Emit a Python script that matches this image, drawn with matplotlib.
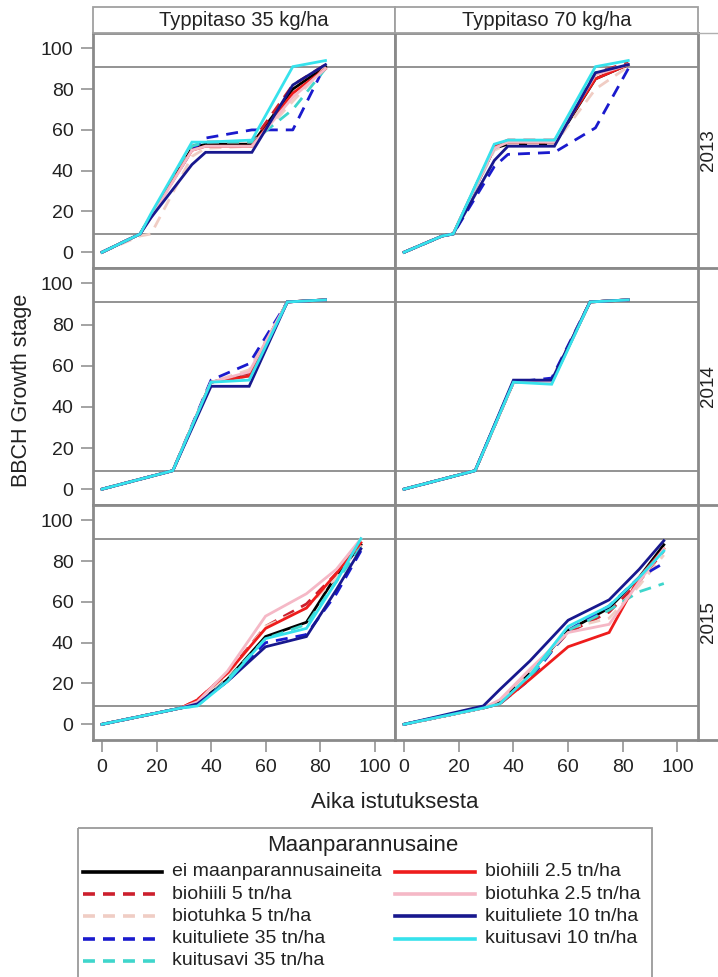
import matplotlib
matplotlib.use("Agg")
import matplotlib.pyplot as plt
from matplotlib.lines import Line2D
from matplotlib.patches import Rectangle

plt.rcParams['font.family'] = ['Liberation Sans', 'DejaVu Sans']

# ---------------- data ----------------
treatments = ["ei maanparannusaineita", "biohiili 5 tn/ha", "biotuhka 5 tn/ha",
              "kuituliete 35 tn/ha", "kuitusavi 35 tn/ha", "biohiili 2.5 tn/ha",
              "biotuhka 2.5 tn/ha", "kuituliete 10 tn/ha", "kuitusavi 10 tn/ha"]
levels = ["Typpitaso 35 kg/ha", "Typpitaso 70 kg/ha"]
years = ["2013", "2014", "2015"]
x_ticks = [0, 20, 40, 60, 80, 100]
y_ticks = [0, 20, 40, 60, 80, 100]
ref_lines = [9, 91]

days_2013 = [0, 14, 18, 33, 38, 55, 70, 82]
days_2014 = [0, 26, 40, 54, 68, 82]
days_2015 = [0, 29, 35, 46, 60, 75, 86, 95]

# rows follow the order of `treatments`
bbch_2013_35 = [
    [0, 9, 18, 51, 53, 53, 80, 91],
    [0, 9, 18, 52, 54, 54, 82, 92],
    [0, 8, 9, 47, 51, 52, 74, 91],
    [0, 9, 18, 50, 56, 60, 60, 92],
    [0, 9, 18, 52, 54, 54, 70, 90],
    [0, 9, 18, 50, 52, 52, 78, 90],
    [0, 9, 17, 50, 52, 52, 76, 90],
    [0, 9, 17, 43, 49, 49, 82, 92],
    [0, 9, 19, 54, 54, 55, 91, 94],
]
bbch_2013_70 = [
    [0, 8, 9, 51, 53, 53, 85, 92],
    [0, 8, 9, 52, 55, 55, 88, 93],
    [0, 8, 9, 50, 53, 53, 80, 91],
    [0, 8, 9, 42, 48, 49, 61, 90],
    [0, 8, 9, 51, 54, 54, 88, 92],
    [0, 8, 9, 52, 54, 54, 85, 92],
    [0, 8, 9, 51, 54, 54, 87, 92],
    [0, 8, 9, 45, 52, 52, 88, 92],
    [0, 8, 9, 53, 55, 55, 91, 94],
]
bbch_2014_35 = [
    [0, 9, 52, 56, 91, 92],
    [0, 9, 52, 56, 91, 92],
    [0, 9, 52, 58, 91, 92],
    [0, 9, 53, 61, 91, 92],
    [0, 9, 52, 55, 91, 92],
    [0, 9, 52, 55, 91, 92],
    [0, 9, 52, 57, 91, 92],
    [0, 9, 50, 50, 91, 92],
    [0, 9, 52, 53, 91, 92],
]
bbch_2014_70 = [
    [0, 9, 52, 52, 91, 92],
    [0, 9, 52, 53, 91, 92],
    [0, 9, 52, 53, 91, 92],
    [0, 9, 52, 54, 91, 92],
    [0, 9, 52, 52, 91, 92],
    [0, 9, 52, 52, 91, 92],
    [0, 9, 52, 52, 91, 92],
    [0, 9, 53, 53, 91, 92],
    [0, 9, 52, 51, 91, 92],
]
bbch_2015_35 = [
    [0, 8, 10, 22, 43, 50, 73, 88],
    [0, 8, 12, 25, 48, 59, 74, 88],
    [0, 8, 11, 24, 48, 57, 72, 88],
    [0, 8, 10, 21, 40, 44, 64, 85],
    [0, 8, 9, 22, 42, 49, 70, 87],
    [0, 8, 12, 25, 47, 57, 74, 89],
    [0, 8, 11, 26, 53, 64, 76, 91],
    [0, 8, 10, 21, 38, 43, 66, 86],
    [0, 8, 9, 21, 42, 47, 70, 91],
]
bbch_2015_70 = [
    [0, 8, 11, 25, 46, 57, 72, 88],
    [0, 8, 11, 24, 45, 55, 70, 85],
    [0, 8, 11, 25, 47, 52, 68, 83],
    [0, 8, 10, 22, 46, 58, 72, 79],
    [0, 8, 10, 23, 46, 56, 65, 69],
    [0, 8, 10, 22, 38, 45, 72, 86],
    [0, 8, 12, 27, 45, 49, 70, 86],
    [0, 9, 17, 31, 51, 61, 76, 90],
    [0, 8, 10, 24, 48, 58, 72, 85],
]

panel_days = [days_2013, days_2014, days_2015]
panel_values = [[bbch_2013_35, bbch_2013_70],
                [bbch_2014_35, bbch_2014_70],
                [bbch_2015_35, bbch_2015_70]]

# ---------------- styles ----------------
colors = ["#000000", "#cc1f2d", "#f0cdc4", "#1a1acd", "#3fd6cc",
          "#ee1c1c", "#f5b8c6", "#18188e", "#36e2ec"]
dashed = [False, True, True, True, True, False, False, False, False]
DASH = (4.3, 2.9)
GRAY = "#8a8a8a"

W, H = 718, 977
fig = plt.figure(figsize=(W / 100, H / 100), dpi=100)


def px_rect(x0, y0, x1, y1):
    return [x0 / W, 1 - y1 / H, (x1 - x0) / W, (y1 - y0) / H]


col_px = [(93, 395), (395, 698)]
row_px = [(33, 268), (268, 505), (505, 740)]

for r in range(3):
    for c in range(2):
        ax = fig.add_axes(px_rect(col_px[c][0], row_px[r][0], col_px[c][1], row_px[r][1]))
        ax.set_xlim(-3.3, 107.5)
        ax.set_ylim(-7.7, 107.5)
        for v in ref_lines:
            ax.axhline(v, color=GRAY, lw=1.3, zorder=1)
        xs = panel_days[r]
        for i, ys in enumerate(panel_values[r][c]):
            ln, = ax.plot(xs, ys, color=colors[i], lw=2.0, zorder=2 + i,
                          solid_joinstyle='miter')
            if dashed[i]:
                ln.set_dashes(DASH)
        for s in ax.spines.values():
            s.set_color(GRAY)
            s.set_linewidth(2)
        ax.set_xticks(x_ticks)
        ax.set_yticks(y_ticks)
        ax.tick_params(length=8.5, width=1.1, color=GRAY, labelsize=14,
                       pad=5.5, labelcolor="#222222")
        if c != 0:
            ax.tick_params(axis='y', left=False, labelleft=False)
        if r != 2:
            ax.tick_params(axis='x', bottom=False, labelbottom=False)

# strip headers
for c in range(2):
    x0, x1 = col_px[c]
    fig.add_artist(Rectangle((x0 / W, 1 - 33 / H), (x1 - x0) / W, 26 / H,
                             transform=fig.transFigure, facecolor="white",
                             edgecolor="#a0a0a0", lw=1.3))
    fig.text((x0 + x1) / 2 / W, 1 - 20 / H, levels[c], ha='center', va='center',
             fontsize=14.5, color="#222222")

# right label column
fig.add_artist(Line2D([698 / W, 1], [1 - 33 / H, 1 - 33 / H], transform=fig.transFigure,
                      color="#b0b0b0", lw=1.0))
for yb in [268, 505, 740]:
    fig.add_artist(Line2D([698 / W, 1], [1 - yb / H, 1 - yb / H], transform=fig.transFigure,
                          color=GRAY, lw=2))
for r in range(3):
    yc = (row_px[r][0] + row_px[r][1]) / 2
    fig.text(708 / W, 1 - yc / H, years[r], rotation=90, ha='center', va='center',
             fontsize=13.5, color="#222222")

# axis labels
fig.text(22 / W, 1 - 390 / H, "BBCH Growth stage", rotation=90, ha='center',
         va='center', fontsize=15.5, color="#222222")
fig.text(395 / W, 1 - 803 / H, "Aika istutuksesta", ha='center', va='center',
         fontsize=16, color="#222222")

# legend (drawn in pixel space)
lax = fig.add_axes([0, 0, 1, 1])
lax.set_xlim(0, W)
lax.set_ylim(H, 0)
lax.axis('off')
lax.patch.set_visible(False)
lax.add_patch(Rectangle((78, 828), 574, 170, fill=False, edgecolor="#9a9a9a", lw=1.3))
lax.text(363, 846, "Maanparannusaine", ha='center', va='center', fontsize=16,
         color="#222222")
for i, name in enumerate(treatments):
    col = 0 if i < 5 else 1
    row = i if i < 5 else i - 5
    y = 872 + row * 22.2
    hx0, hx1, tx = (83, 162, 172) if col == 0 else (395, 475, 485)
    ln, = lax.plot([hx0, hx1], [y, y], color=colors[i], lw=2.6)
    if dashed[i]:
        ln.set_dashes((4.3 * 2 / 2.6, 2.9 * 2 / 2.6))
    lax.text(tx, y, name, ha='left', va='center', fontsize=14, color="#222222")

fig.savefig("out.png", dpi=100)
